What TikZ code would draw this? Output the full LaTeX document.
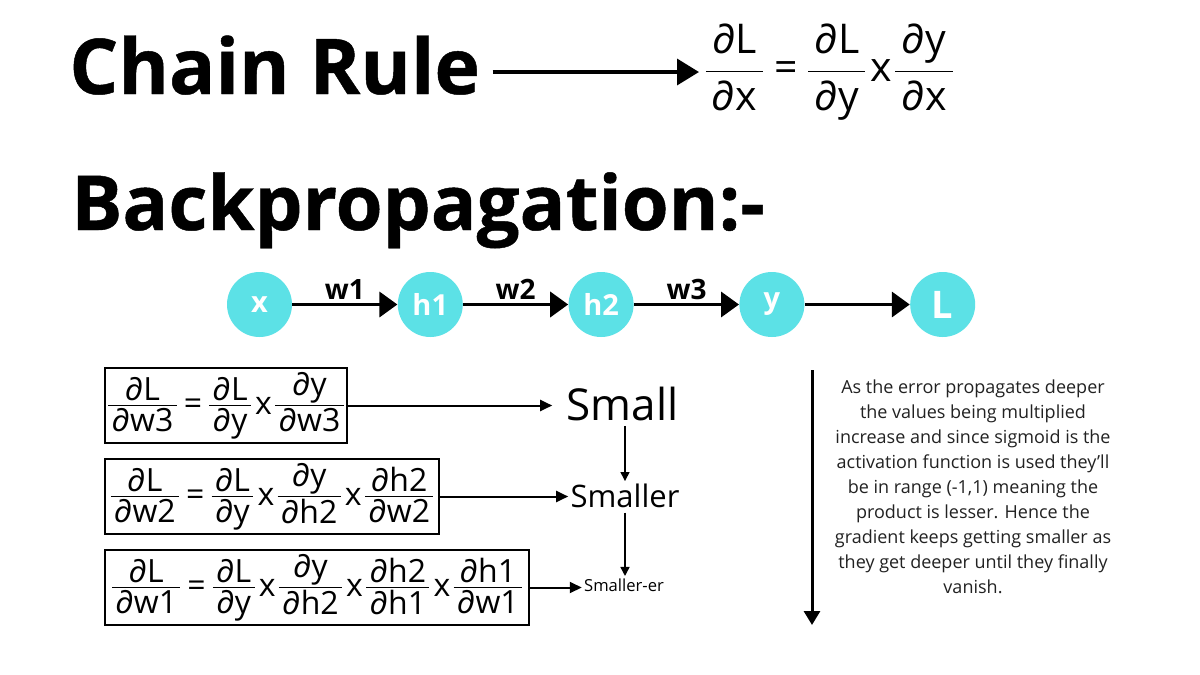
\documentclass[tikz,border=0pt]{standalone}
\usepackage{amsmath}
\usepackage{fontspec}
\setmainfont{Open Sans}
\usetikzlibrary{arrows.meta,positioning}
\definecolor{neuronfill}{HTML}{5CE1E6}
\definecolor{bodytext}{HTML}{222222}
\newcommand{\fpad}{0.1em}
\newcommand{\fsty}{1}
\newcommand{\pd}[2]{\genfrac{}{}{0.8pt}{\fsty}%
  {\textstyle\text{\hspace{\fpad}∂#1\hspace{\fpad}}}{\textstyle\text{\hspace{\fpad}∂#2\hspace{\fpad}}}}
\newcommand{\eqs}{\text{\hspace{0.15em}=\hspace{0.15em}}}
\newcommand{\tms}{\text{\hspace{0.06em}x\hspace{0.03em}}}

\begin{document}
\begin{tikzpicture}[x=0.5pt, y=-0.5pt,
  hd/.style={font=\fontsize{38.5}{42}\selectfont\bfseries\addfontfeatures{FakeBold=0.6},
             inner sep=0pt, anchor=base west},
  neuron/.style={circle, fill=neuronfill, minimum size=32.5pt, inner sep=0pt, text=white,
                 font=\fontsize{14.5}{16}\selectfont\bfseries},
  link/.style={-{Triangle[length=9pt, width=12.5pt]}, line width=1.8pt},
  wlab/.style={above=1.5pt, inner sep=0pt, font=\fontsize{14}{16}\selectfont\bfseries},
  eqbox/.style={draw, line width=1pt, minimum height=37.5pt, inner xsep=0.5pt, inner ysep=0pt,
                font=\fontsize{16}{18}\selectfont},
  fl/.style={-{Triangle[length=6pt, width=5.5pt]}, line width=1pt},
  dn/.style={-{Triangle[length=4.5pt, width=4.5pt]}, line width=0.7pt},
  lvl/.style={inner sep=1pt, anchor=base},
  deep/.style={-{Triangle[length=7pt, width=8pt]}, line width=1.5pt},
]
\fill[white] (0,0) rectangle (1200,675);
\useasboundingbox (0,0) rectangle (1200,675);

% chain rule headline
\node[hd] (chaintitle) at (69,94) {Chain Rule};
\node[font=\fontsize{20.5}{24}\selectfont, inner sep=0pt, anchor=west] (chainfrm) at (703,72)
   {\renewcommand{\fpad}{0.15em}\renewcommand{\fsty}{0}%
    $\pd{L}{x}\text{\hspace{0.05em}}\eqs\text{\hspace{0.05em}}\pd{L}{y}\tms\pd{y}{x}$};
\draw[-{Triangle[length=11pt, width=13pt]}, line width=1.8pt]
   ([xshift=6pt]chaintitle.east |- chainfrm.west) -- ([xshift=-2pt]chainfrm.west);

% backpropagation headline
\node[hd, font=\fontsize{38}{42}\selectfont\bfseries\addfontfeatures{FakeBold=0.6}] (bptitle) at (71,230) {Backpropagation:-};

% network x -> h1 -> h2 -> y -> L
\node[neuron] (x) at (259.5,304.5) {x};
\node[neuron, right=52.5pt of x] (h1) {h1};
\node[neuron, right=52.5pt of h1] (h2) {h2};
\node[neuron, right=52.5pt of h2] (y) {y};
\node[neuron, right=52.5pt of y, font=\fontsize{19}{21}\selectfont\bfseries] (L) {L};
\draw[link] (x) -- (h1) node[midway, wlab] {w1};
\draw[link] (h1) -- (h2) node[midway, wlab] {w2};
\draw[link] (h2) -- (y) node[midway, wlab] {w3};
\draw[link] (y) -- (L);

% gradients per weight
\node[eqbox, anchor=north west, minimum width=120pt] (eq3) at (104,367)
   {$\pd{L}{w3}\eqs\pd{L}{y}\tms\pd{y}{w3}$};
\node[eqbox, below=7pt of eq3.south west, anchor=north west, minimum width=167pt] (eq2)
   {$\pd{L}{w2}\eqs\pd{L}{y}\tms\pd{y}{h2}\tms\pd{h2}{w2}$};
\node[eqbox, below=7pt of eq2.south west, anchor=north west, minimum width=212pt] (eq1)
   {$\pd{L}{w1}\eqs\pd{L}{y}\tms\pd{y}{h2}\tms\pd{h2}{h1}\tms\pd{h1}{w1}$};

\node[lvl, font=\fontsize{22}{26}\selectfont] (small) at (622.5,420) {Small};
\node[lvl, font=\fontsize{15.5}{19}\selectfont] (smaller) at (625,507) {Smaller};
\node[lvl, font=\fontsize{8.3}{10}\selectfont] (smallerer) at (624,591) {Smaller-er};

\draw[fl, shorten >=6pt] (eq3.east) -- (eq3.east -| small.west);
\draw[fl] (eq2.east) -- (eq2.east -| smaller.west);
\draw[fl] (eq1.east) -- (eq1.east -| smallerer.west);
\draw[dn, shorten <=1.5pt] (small.south -| smaller.north) -- (smaller.north);
\draw[dn, shorten <=1.5pt] (smaller.south) -- (smaller.south |- smallerer.north);

% explanation
\coordinate (deeptop) at (812,370);
\coordinate (deepend) at (812,625);
\draw[deep] (deeptop) -- (deepend);
\node[font=\fontsize{9}{12.5}\selectfont, align=center, text=bodytext] (note) at (973,487)
   {As the error propagates deeper\\the values being multiplied\\increase and since sigmoid is the\\
    activation function is used they'll\\be in range (-1,1) meaning the\\product is lesser. Hence the\\
    gradient keeps getting smaller as\\they get deeper until they finally\\vanish.};
\end{tikzpicture}
\end{document}
